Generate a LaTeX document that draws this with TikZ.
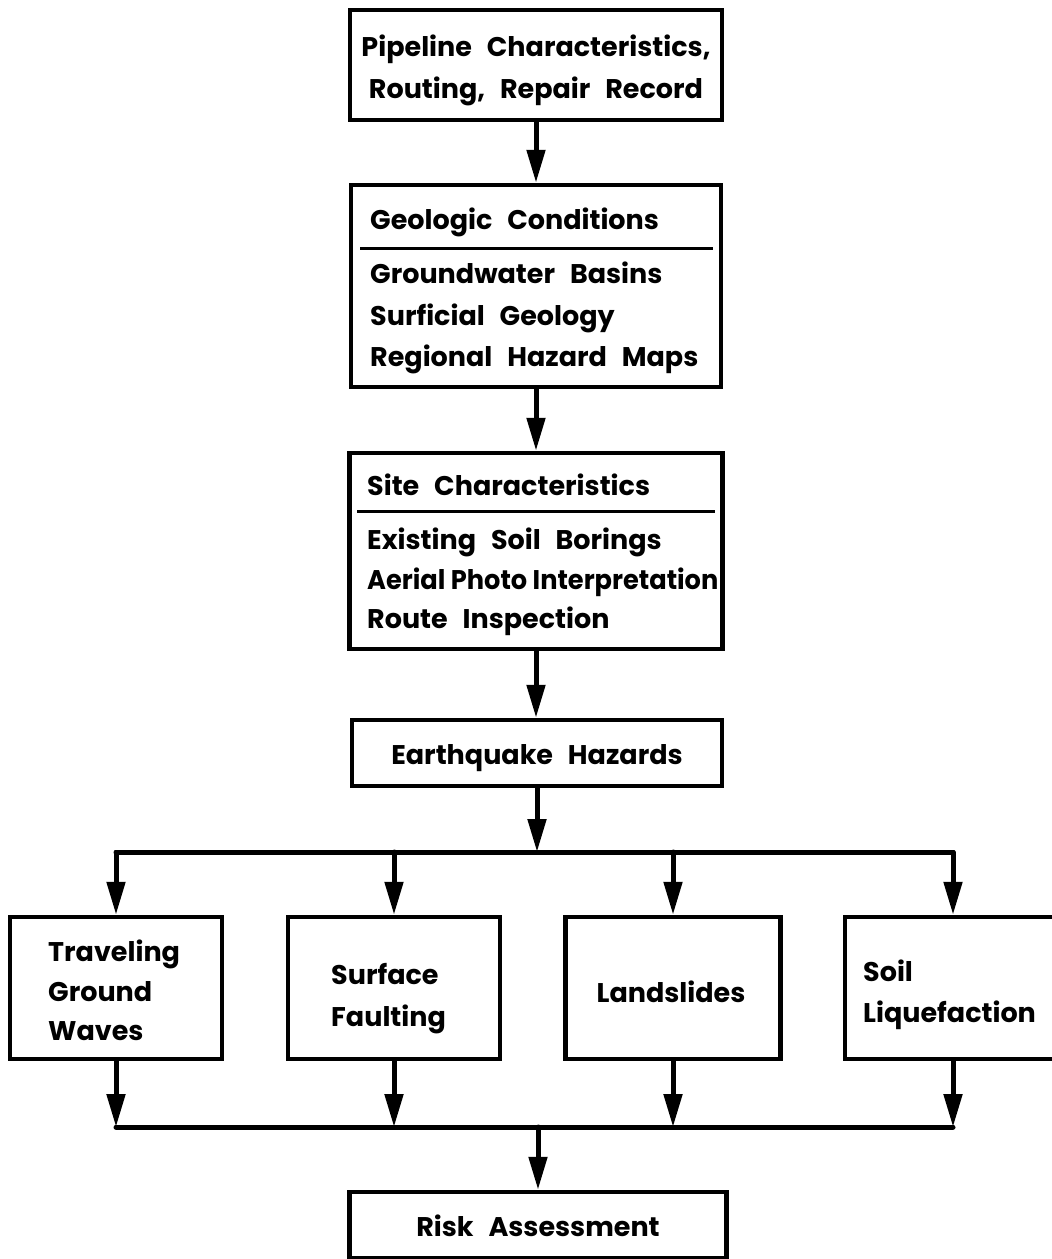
\documentclass[tikz,border=0pt]{standalone}
\usepackage{fontspec}
\setmainfont{Poppins}[WordSpace=2.6]
\newfontfamily\tightfont{Poppins}[WordSpace=1.0]
\usetikzlibrary{arrows.meta,calc}
\tikzset{
  box/.style={draw, line width=4.5pt, inner sep=0pt, rectangle},
  conn/.style={line width=5pt, line join=round, line cap=round},
  arr/.style={conn, -{Triangle[length=33pt,width=18pt]}},
  txt/.style={inner sep=0pt, font=\fontsize{27}{32}\selectfont\bfseries},
  divline/.style={line width=3pt}
}
\begin{document}
\begin{tikzpicture}[x=1pt,y=-1pt]
\useasboundingbox (0,0) rectangle (1052,1259);
% boxes
\node[box, minimum width=372pt, minimum height=110pt] (b1) at (536,65) {};
\node[box, minimum width=370pt, minimum height=202pt] (b2) at (536,286) {};
\node[box, minimum width=373pt, minimum height=196pt] (b3) at (536,551) {};
\node[box, minimum width=370pt, minimum height=66pt] (b4) at (537,753) {};
\node[box, minimum width=212pt, minimum height=142pt] (b5) at (116,988) {};
\node[box, minimum width=212pt, minimum height=142pt] (b6) at (394,988) {};
\node[box, minimum width=215pt, minimum height=142pt] (b7) at (673,988) {};
\node[box, minimum width=216pt, minimum height=142pt] (b8) at (953,988) {};
\node[box, minimum width=377pt, minimum height=66pt] (b9) at (538,1225) {};
% texts
\node[txt, anchor=base] (p1) at (536,56) {Pipeline Characteristics,};
\node[txt, anchor=base] (p2) at (536,98) {Routing, Repair Record};
\node[txt, anchor=base west] (g0) at (370,229) {Geologic Conditions};
\node[txt, anchor=base west] (g1) at (370,283) {Groundwater Basins};
\node[txt, anchor=base west] (g2) at (370,325) {Surficial Geology};
\node[txt, anchor=base west] (g3) at (370,366) {Regional Hazard Maps};
\node[txt, anchor=base west] (s0) at (367,495) {Site Characteristics};
\node[txt, anchor=base west] (s1t) at (367,549) {Existing Soil Borings};
\node[txt, anchor=base west] (s2t) at (367,589) {\scalebox{0.95}[1]{\tightfont\bfseries Aerial Photo Interpretation}};
\node[txt, anchor=base west] (s3t) at (367,628) {Route Inspection};
\node[txt, anchor=base] (e0) at (537,764) {Earthquake Hazards};
\node[txt, anchor=base west] (w1) at (48,961) {Traveling};
\node[txt, anchor=base west] (w2) at (48,1001) {Ground};
\node[txt, anchor=base west] (w3) at (48,1040) {Waves};
\node[txt, anchor=base west] (f1) at (331,984) {Surface};
\node[txt, anchor=base west] (f2) at (331,1026) {Faulting};
\node[txt, anchor=base] (l1) at (671,1002) {Landslides};
\node[txt, anchor=base west] (q1) at (863,981) {Soil};
\node[txt, anchor=base west] (q2) at (863,1022) {Liquefaction};
\node[txt, anchor=base] (r1) at (538,1236) {Risk Assessment};
% dividers
\coordinate (d1a) at (360,248); \coordinate (d1b) at (713,248);
\coordinate (d2a) at (357,511); \coordinate (d2b) at (715,511);
\draw[divline] (d1a) -- (d1b);
\draw[divline] (d2a) -- (d2b);
% main chain
\draw[arr] (b1.south) -- (b1.south |- b2.north);
\draw[arr] (b2.south) -- (b2.south |- b3.north);
\draw[arr] (b3.south) -- (b3.south |- b4.north);
% distribution
\coordinate (t1) at (b5.north |- 0,852);
\coordinate (t2) at (b6.north |- 0,852);
\coordinate (t3) at (b7.north |- 0,852);
\coordinate (t4) at (b8.north |- 0,852);
\coordinate (j1) at (b4.south |- 0,852);
\draw[arr] (b4.south) -- (j1);
\draw[arr] (t4) -- (t1) -- (b5.north);
\draw[arr] (t1) -- (t4) -- (b8.north);
\draw[arr] (t2) -- (b6.north);
\draw[arr] (t3) -- (b7.north);
% collection
\coordinate (u1) at (b5.south |- 0,1127);
\coordinate (u2) at (b6.south |- 0,1127);
\coordinate (u3) at (b7.south |- 0,1127);
\coordinate (u4) at (b8.south |- 0,1127);
\coordinate (j2) at (b9.north |- 0,1127);
\draw[conn] (u1) -- (u4);
\draw[arr] (b5.south) -- (u1);
\draw[arr] (b6.south) -- (u2);
\draw[arr] (b7.south) -- (u3);
\draw[arr] (b8.south) -- (u4);
\draw[arr] (j2) -- (b9.north);
\end{tikzpicture}
\end{document}
